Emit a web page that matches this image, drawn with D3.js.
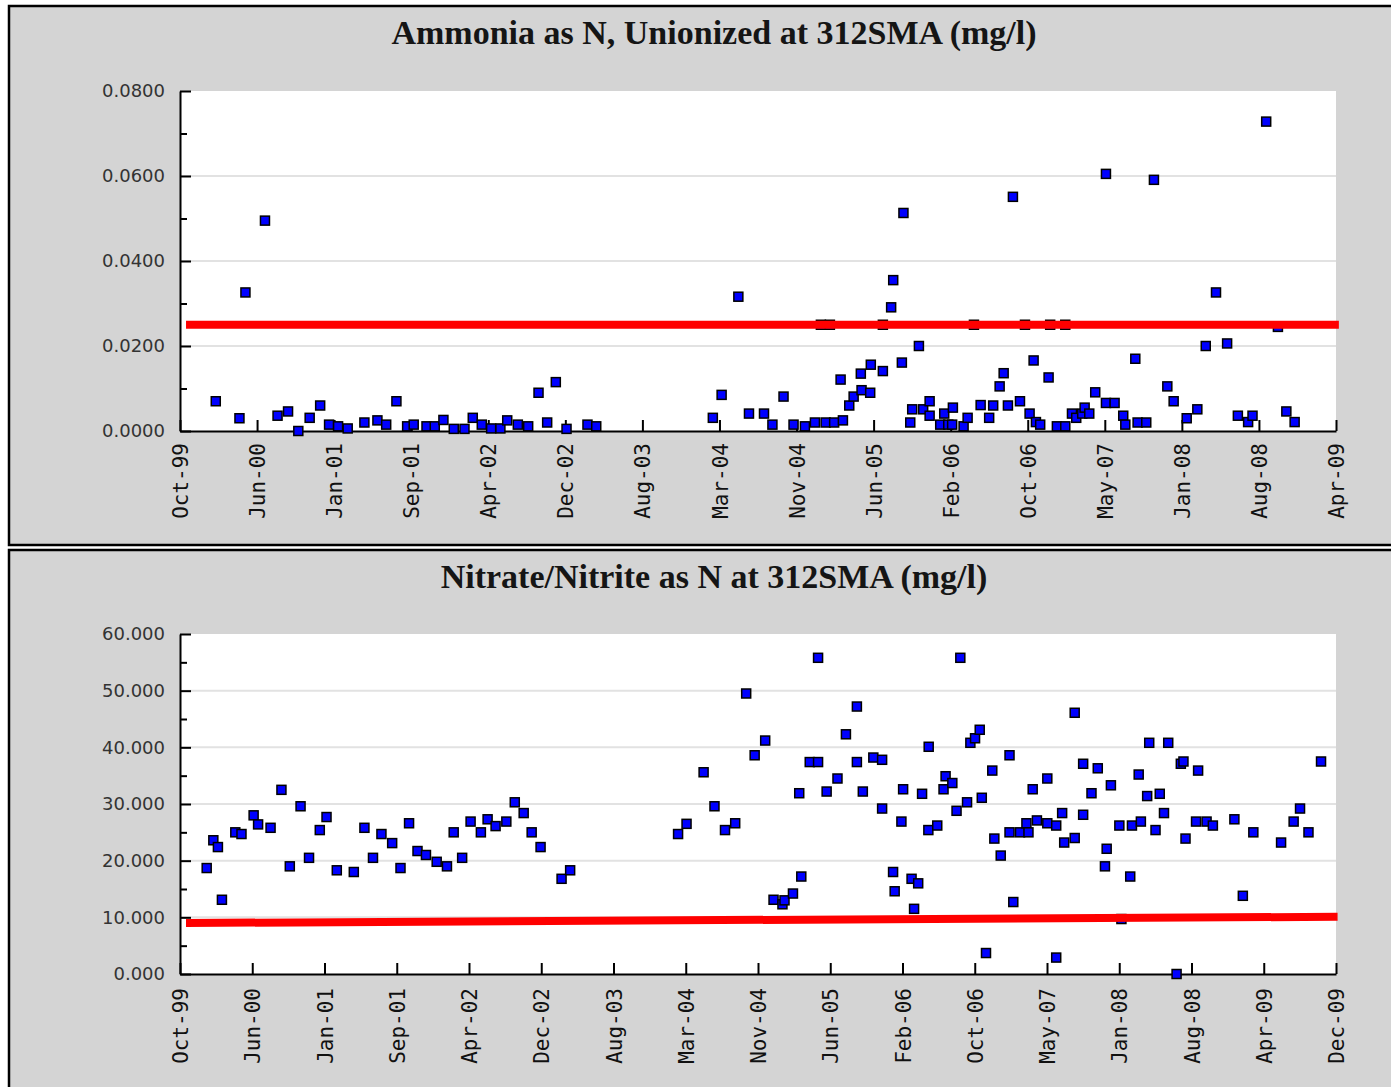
<!DOCTYPE html>
<html>
<head>
<meta charset="utf-8">
<script src="https://cdn.jsdelivr.net/npm/d3@7"></script>
<style>
  body { margin: 0; background: #fff; }
  svg { display: block; }
  .title { font-family: "Liberation Serif", "Times New Roman", serif; font-weight: bold; font-size: 34px; fill: #151515; }
  .ylab { font-family: "DejaVu Sans", sans-serif; font-size: 18px; fill: #333; }
  .xlab { font-family: "DejaVu Sans Mono", monospace; font-size: 21px; fill: #111; }
</style>
</head>
<body>
<svg id="chart" width="1391" height="1087"></svg>
<script>
// sample dates are decimal years
const ammoniaDates = [
  2000.088, 2000.282, 2000.331, 2000.491, 2000.594, 2000.680, 2000.764, 2000.857, 2000.943, 2001.016,
  2001.090, 2001.169, 2001.306, 2001.413, 2001.485, 2001.569, 2001.657, 2001.711, 2001.816, 2001.884,
  2001.955, 2002.040, 2002.128, 2002.196, 2002.270, 2002.347, 2002.423, 2002.479, 2002.566, 2002.651,
  2002.736, 2002.807, 2002.878, 2002.966, 2003.138, 2003.210, 2004.167, 2004.239, 2004.376, 2004.463,
  2004.586, 2004.655, 2004.746, 2004.828, 2004.921, 2005.003, 2005.052, 2005.091, 2005.126, 2005.161,
  2005.214, 2005.233, 2005.285, 2005.321, 2005.386, 2005.380, 2005.457, 2005.462, 2005.561, 2005.561,
  2005.629, 2005.646, 2005.717, 2005.730, 2005.786, 2005.802, 2005.857, 2005.892, 2005.945, 2005.945,
  2006.032, 2006.065, 2006.098, 2006.130, 2006.136, 2006.224, 2006.257, 2006.309, 2006.364, 2006.434,
  2006.467, 2006.520, 2006.553, 2006.588, 2006.629, 2006.687, 2006.728, 2006.766, 2006.799, 2006.818,
  2006.853, 2006.922, 2006.935, 2006.990, 2007.059, 2007.059, 2007.114, 2007.149, 2007.198, 2007.218,
  2007.256, 2007.305, 2007.393, 2007.393, 2007.464, 2007.535, 2007.552, 2007.634, 2007.653, 2007.724,
  2007.787, 2007.897, 2007.949, 2008.056, 2008.143, 2008.212, 2008.296, 2008.387, 2008.475, 2008.559,
  2008.595, 2008.707, 2008.803, 2008.872, 2008.940
];
const ammoniaValues = [
  0.0070, 0.0030, 0.0326, 0.0495, 0.0036, 0.0046, 0.0000, 0.0031, 0.0060, 0.0015,
  0.0011, 0.0006, 0.0020, 0.0025, 0.0015, 0.0070, 0.0011, 0.0015, 0.0011, 0.0011,
  0.0026, 0.0005, 0.0005, 0.0031, 0.0015, 0.0006, 0.0006, 0.0025, 0.0015, 0.0011,
  0.0090, 0.0020, 0.0115, 0.0005, 0.0015, 0.0011, 0.0031, 0.0085, 0.0316, 0.0041,
  0.0041, 0.0015, 0.0081, 0.0015, 0.0011, 0.0020, 0.0250, 0.0020, 0.0250, 0.0020,
  0.0121, 0.0025, 0.0060, 0.0081, 0.0096, 0.0135, 0.0090, 0.0156, 0.0141, 0.0250,
  0.0291, 0.0355, 0.0161, 0.0513, 0.0020, 0.0051, 0.0200, 0.0051, 0.0070, 0.0036,
  0.0015, 0.0041, 0.0015, 0.0015, 0.0055, 0.0011, 0.0031, 0.0250, 0.0061, 0.0031,
  0.0060, 0.0105, 0.0136, 0.0060, 0.0551, 0.0070, 0.0250, 0.0041, 0.0166, 0.0021,
  0.0015, 0.0126, 0.0250, 0.0011, 0.0011, 0.0250, 0.0041, 0.0031, 0.0041, 0.0055,
  0.0041, 0.0091, 0.0066, 0.0605, 0.0066, 0.0036, 0.0015, 0.0170, 0.0020, 0.0020,
  0.0591, 0.0105, 0.0070, 0.0030, 0.0051, 0.0200, 0.0326, 0.0206, 0.0036, 0.0021,
  0.0036, 0.0728, 0.0245, 0.0046, 0.0021
];
const ammoniaLimitDates = [1999.844, 2009.303];
const ammoniaLimitValues = [0.025, 0.025];

const nitrateDates = [
  2000.031, 2000.089, 2000.129, 2000.164, 2000.281, 2000.335, 2000.441, 2000.480, 2000.589, 2000.684,
  2000.757, 2000.851, 2000.925, 2001.019, 2001.078, 2001.168, 2001.317, 2001.410, 2001.485, 2001.559,
  2001.653, 2001.726, 2001.801, 2001.875, 2001.949, 2002.043, 2002.133, 2002.192, 2002.266, 2002.340,
  2002.430, 2002.489, 2002.559, 2002.653, 2002.727, 2002.805, 2002.875, 2002.953, 2003.137, 2003.212,
  2004.157, 2004.231, 2004.380, 2004.475, 2004.567, 2004.656, 2004.752, 2004.826, 2004.918, 2004.991,
  2005.069, 2005.087, 2005.161, 2005.216, 2005.234, 2005.308, 2005.381, 2005.381, 2005.456, 2005.551,
  2005.625, 2005.721, 2005.721, 2005.773, 2005.865, 2005.942, 2005.942, 2006.038, 2006.052, 2006.111,
  2006.126, 2006.200, 2006.222, 2006.258, 2006.292, 2006.347, 2006.350, 2006.425, 2006.480, 2006.498,
  2006.557, 2006.594, 2006.627, 2006.686, 2006.715, 2006.756, 2006.797, 2006.815, 2006.852, 2006.907,
  2006.925, 2006.981, 2007.058, 2007.058, 2007.091, 2007.150, 2007.206, 2007.224, 2007.261, 2007.298,
  2007.389, 2007.389, 2007.467, 2007.467, 2007.519, 2007.537, 2007.629, 2007.629, 2007.703, 2007.703,
  2007.776, 2007.831, 2007.894, 2007.909, 2007.946, 2008.020, 2008.038, 2008.115, 2008.130, 2008.189,
  2008.208, 2008.263, 2008.281, 2008.336, 2008.373, 2008.410, 2008.447, 2008.520, 2008.557, 2008.580,
  2008.598, 2008.690, 2008.708, 2008.782, 2008.837, 2009.025, 2009.099, 2009.191, 2009.434, 2009.544,
  2009.600, 2009.674, 2009.784
];
const nitrateValues = [
  18.7, 23.6, 22.4, 13.1, 25.0, 24.7, 28.0, 26.4, 25.8, 32.5,
  19.0, 29.6, 20.5, 25.4, 27.7, 18.3, 18.0, 25.8, 20.5, 24.7,
  23.1, 18.7, 26.6, 21.7, 21.0, 19.8, 19.0, 25.0, 20.5, 26.9,
  25.0, 27.3, 26.1, 26.9, 30.3, 28.4, 25.0, 22.4, 16.8, 18.3,
  24.7, 26.5, 35.6, 29.6, 25.4, 26.6, 49.5, 38.6, 41.2, 13.1,
  12.3, 13.0, 14.2, 31.9, 17.2, 37.4, 37.4, 55.8, 32.2, 34.5,
  42.3, 47.2, 37.4, 32.2, 38.2, 37.8, 29.2, 18.0, 14.6, 26.9,
  32.6, 16.8, 11.5, 16.0, 31.8, 25.4, 40.1, 26.2, 32.6, 34.9,
  33.7, 28.8, 55.8, 30.3, 40.8, 41.6, 43.1, 31.1, 3.7, 35.9,
  23.9, 20.9, 38.6, 25.0, 12.7, 25.0, 26.6, 25.0, 32.6, 27.1,
  34.5, 26.6, 26.2, 2.9, 28.4, 23.2, 46.1, 24.0, 37.1, 28.1,
  31.9, 36.3, 19.0, 22.1, 33.3, 26.2, 9.7, 17.2, 26.2, 35.2,
  26.9, 31.4, 40.8, 25.4, 31.8, 28.4, 40.8, 0.0, 37.1, 37.5,
  23.9, 26.9, 35.9, 26.9, 26.2, 27.3, 13.8, 25.0, 23.2, 26.9,
  29.2, 25.0, 37.5
];
const nitrateTrendDates = [1999.850, 2009.929];
const nitrateTrendValues = [9.0, 10.1];

const ammoniaTickLabels = ["Oct-99", "Jun-00", "Jan-01", "Sep-01", "Apr-02", "Dec-02", "Aug-03", "Mar-04",
  "Nov-04", "Jun-05", "Feb-06", "Oct-06", "May-07", "Jan-08", "Aug-08", "Apr-09"];
const nitrateTickLabels = ammoniaTickLabels.concat(["Dec-09"]);
const ammoniaYTicks = [0, 0.02, 0.04, 0.06, 0.08];
const nitrateYTicks = [0, 10, 20, 30, 40, 50, 60];

const W = 1391, H = 1087;
const plotLeft = 180, plotRight = 1336;
const tickStepDays = 231;

function fromDecimalYear(y) {
    let yr = Math.floor(y);
    let s = Date.UTC(yr, 0, 1), e = Date.UTC(yr + 1, 0, 1);
    return new Date(s + (y - yr) * (e - s));
}

const svg = d3.select("#chart");

function drawPanel(cfg) {
    let g = svg.append("g");

    // gray frame
    g.append("rect")
        .attr("x", 9).attr("y", cfg.frameTop)
        .attr("width", 1400).attr("height", cfg.frameHeight)
        .attr("fill", "#d4d4d4")
        .attr("stroke", "#000")
        .attr("stroke-width", 2.5);

    g.append("text")
        .classed("title", true)
        .attr("x", 714).attr("y", cfg.titleY)
        .attr("text-anchor", "middle")
        .text(cfg.title);

    let tickDates = cfg.tickLabels.map((_, i) => d3.utcDay.offset(cfg.axisStart, i * tickStepDays));
    let x = d3.scaleUtc()
        .domain([tickDates[0], tickDates[tickDates.length - 1]])
        .range([plotLeft, plotRight]);
    let y = d3.scaleLinear()
        .domain([0, cfg.yTicks[cfg.yTicks.length - 1]])
        .range([cfg.plotBottom, cfg.plotTop]);

    g.append("rect")
        .attr("x", plotLeft).attr("y", cfg.plotTop)
        .attr("width", plotRight - plotLeft).attr("height", cfg.plotBottom - cfg.plotTop)
        .attr("fill", "#fff");

    g.append("g")
        .selectAll("line")
        .data(cfg.yTicks.slice(1, -1))
        .join("line")
        .attr("x1", plotLeft).attr("x2", plotRight)
        .attr("y1", d => y(d)).attr("y2", d => y(d))
        .attr("stroke", "#e2e2e2")
        .attr("stroke-width", 2);

    // minor y ticks halfway between labels
    let minor = d3.pairs(cfg.yTicks).map(([a, b]) => (a + b) / 2);
    g.append("g")
        .attr("transform", `translate(${plotLeft},0)`)
        .call(d3.axisLeft(y).tickValues(minor).tickSize(-7).tickFormat(""))
        .call(a => a.select(".domain").remove())
        .selectAll("line").attr("stroke-width", 2);

    let yAxis = g.append("g")
        .attr("transform", `translate(${plotLeft},0)`)
        .call(d3.axisLeft(y).tickValues(cfg.yTicks).tickSize(-11).tickSizeOuter(0)
            .tickPadding(15).tickFormat(cfg.yFormat));
    yAxis.select(".domain").attr("stroke-width", 2);
    yAxis.selectAll("line").attr("stroke-width", 2);
    yAxis.selectAll("text").attr("class", "ylab");

    let xAxis = g.append("g")
        .attr("transform", `translate(0,${cfg.plotBottom})`)
        .call(d3.axisBottom(x).tickValues(tickDates).tickSize(-11).tickSizeOuter(0)
            .tickFormat((d, i) => cfg.tickLabels[i]));
    xAxis.select(".domain").attr("stroke-width", 2);
    xAxis.selectAll("line").attr("stroke-width", 2);
    xAxis.selectAll("text")
        .attr("class", "xlab")
        .attr("transform", "rotate(-90)")
        .attr("x", -cfg.labelGap)
        .attr("y", 0)
        .attr("dy", "0.36em")
        .style("text-anchor", "end");

    let pts = cfg.dates.map((d, i) => ({ date: fromDecimalYear(d), value: cfg.values[i] }));
    g.append("g")
        .selectAll("rect")
        .data(pts)
        .join("rect")
        .attr("x", d => x(d.date) - 4.5)
        .attr("y", d => y(d.value) - 4.5)
        .attr("width", 9).attr("height", 9)
        .attr("fill", "#0000ff")
        .attr("stroke", "#000")
        .attr("stroke-width", 1.5);

    let limit = cfg.limitDates.map((d, i) => [x(fromDecimalYear(d)), y(cfg.limitValues[i])]);
    g.append("path")
        .attr("d", d3.line()(limit))
        .attr("fill", "none")
        .attr("stroke", "#ff0000")
        .attr("stroke-width", 8);
}

svg.append("rect").attr("width", W).attr("height", H).attr("fill", "#fff");

drawPanel({
    frameTop: 6, frameHeight: 539,
    title: "Ammonia as N, Unionized at 312SMA (mg/l)", titleY: 44,
    plotTop: 91, plotBottom: 431,
    axisStart: new Date(Date.UTC(1999, 9, 18)),
    tickLabels: ammoniaTickLabels,
    yTicks: ammoniaYTicks, yFormat: d3.format(".4f"),
    dates: ammoniaDates, values: ammoniaValues,
    limitDates: ammoniaLimitDates, limitValues: ammoniaLimitValues,
    labelGap: 12
});

drawPanel({
    frameTop: 550, frameHeight: 560,
    title: "Nitrate/Nitrite as N at 312SMA (mg/l)", titleY: 588,
    plotTop: 634, plotBottom: 974,
    axisStart: new Date(Date.UTC(1999, 9, 19)),
    tickLabels: nitrateTickLabels,
    yTicks: nitrateYTicks, yFormat: d3.format(".3f"),
    dates: nitrateDates, values: nitrateValues,
    limitDates: nitrateTrendDates, limitValues: nitrateTrendValues,
    labelGap: 14
});
</script>
</body>
</html>
